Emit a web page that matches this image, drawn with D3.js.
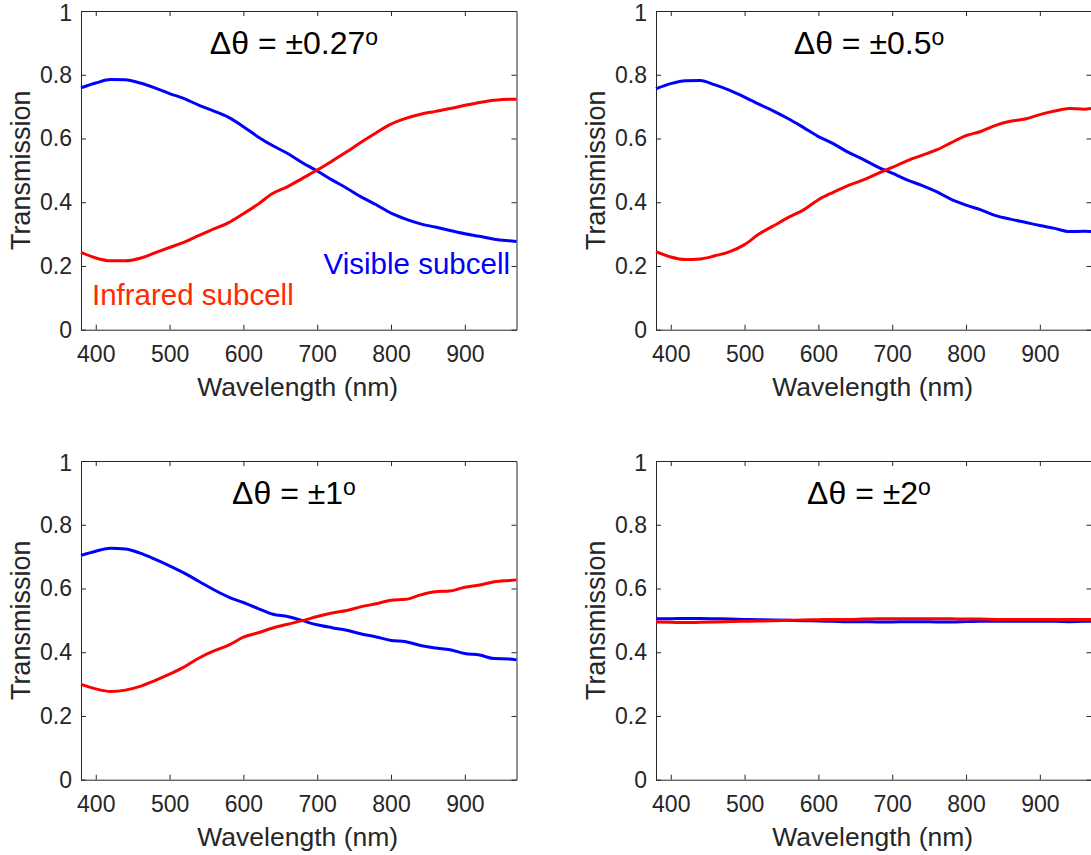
<!DOCTYPE html>
<html>
<head>
<meta charset="utf-8">
<script src="https://cdn.jsdelivr.net/npm/d3@7"></script>
<style>
  html, body { margin: 0; padding: 0; background: #fff; }
  svg { display: block; font-family: "Liberation Sans", Arial, Helvetica, sans-serif; }
</style>
</head>
<body>
<svg id="chart" width="1091" height="855"></svg>
<script>
// wavelength grid (nm)
const wavelength = [380, 400, 420, 440, 460, 480, 500, 520, 540, 560, 580, 600, 620, 640, 660, 680,
  700, 720, 740, 760, 780, 800, 820, 840, 860, 880, 900, 920, 940, 960, 970];

// Δθ = ±0.27°
const visible027 = [0.759, 0.774, 0.785, 0.784, 0.774, 0.759, 0.741, 0.725, 0.704, 0.686, 0.666, 0.637, 0.605, 0.577, 0.553, 0.524,
  0.498, 0.470, 0.444, 0.416, 0.392, 0.366, 0.347, 0.332, 0.322, 0.311, 0.301, 0.293, 0.284, 0.279, 0.277];
const infrared027 = [0.243, 0.225, 0.216, 0.216, 0.224, 0.241, 0.258, 0.275, 0.296, 0.316, 0.336, 0.364, 0.394, 0.428, 0.449, 0.475,
  0.501, 0.529, 0.558, 0.589, 0.618, 0.645, 0.663, 0.676, 0.685, 0.694, 0.704, 0.713, 0.720, 0.723, 0.723];

// Δθ = ±0.5°
const visible05 = [0.756, 0.772, 0.781, 0.782, 0.768, 0.751, 0.730, 0.707, 0.685, 0.661, 0.634, 0.606, 0.584, 0.557, 0.535, 0.511,
  0.491, 0.470, 0.453, 0.433, 0.409, 0.391, 0.376, 0.358, 0.347, 0.337, 0.327, 0.318, 0.308, 0.309, 0.308];
const infrared05 = [0.245, 0.228, 0.220, 0.222, 0.232, 0.245, 0.267, 0.301, 0.327, 0.353, 0.376, 0.408, 0.431, 0.452, 0.469, 0.490,
  0.509, 0.530, 0.547, 0.564, 0.587, 0.609, 0.622, 0.641, 0.654, 0.661, 0.675, 0.686, 0.694, 0.692, 0.694];

// Δθ = ±1°
const visible1 = [0.704, 0.717, 0.726, 0.724, 0.711, 0.692, 0.671, 0.648, 0.622, 0.596, 0.573, 0.556, 0.537, 0.519, 0.512, 0.499,
  0.486, 0.477, 0.469, 0.457, 0.448, 0.437, 0.433, 0.421, 0.413, 0.408, 0.396, 0.391, 0.380, 0.379, 0.376];
const infrared1 = [0.299, 0.285, 0.277, 0.281, 0.293, 0.311, 0.331, 0.354, 0.382, 0.404, 0.422, 0.447, 0.461, 0.476, 0.488, 0.499,
  0.512, 0.523, 0.531, 0.543, 0.552, 0.563, 0.566, 0.580, 0.590, 0.592, 0.604, 0.611, 0.621, 0.625, 0.627];

// Δθ = ±2°
const visible2 = [0.505, 0.505, 0.506, 0.506, 0.505, 0.504, 0.503, 0.502, 0.501, 0.500, 0.499, 0.498, 0.497, 0.496, 0.496, 0.495,
  0.495, 0.496, 0.496, 0.495, 0.495, 0.496, 0.497, 0.497, 0.497, 0.497, 0.497, 0.497, 0.496, 0.497, 0.497];
const infrared2 = [0.495, 0.494, 0.493, 0.494, 0.495, 0.496, 0.497, 0.498, 0.499, 0.500, 0.501, 0.502, 0.503, 0.503, 0.504, 0.505,
  0.505, 0.505, 0.505, 0.505, 0.505, 0.504, 0.504, 0.503, 0.503, 0.503, 0.503, 0.503, 0.503, 0.503, 0.503];

const panelAngles = ["±0.27", "±0.5", "±1", "±2"];
const xTicks = [400, 500, 600, 700, 800, 900];
const yTicks = [0, 0.2, 0.4, 0.6, 0.8, 1];

const panels = [
  { angle: panelAngles[0], visible: visible027, infrared: infrared027, left: 81, top: 11, labels: true },
  { angle: panelAngles[1], visible: visible05, infrared: infrared05, left: 656, top: 11 },
  { angle: panelAngles[2], visible: visible1, infrared: infrared1, left: 81, top: 461 },
  { angle: panelAngles[3], visible: visible2, infrared: infrared2, left: 656, top: 461 }
];

const W = 435.5, H = 318.7;
const svg = d3.select("#chart");
const ink = "#262626";

panels.forEach(p => {
  const g = svg.append("g").attr("transform", `translate(${p.left},${p.top})`);

  const x = d3.scaleLinear().domain([380, 970]).range([0, W]);
  const y = d3.scaleLinear().domain([0, 1]).range([H, 0]);

  // axes, ticks inward on all four sides
  const styleAxis = sel => {
    sel.attr("font-family", null).attr("font-size", null);
    sel.selectAll("path, line").attr("stroke", ink).attr("stroke-width", 1);
    sel.selectAll("text").attr("fill", ink).style("font-size", "23px");
  };

  g.append("g").attr("transform", `translate(0,${H})`)
    .call(d3.axisBottom(x).tickValues(xTicks).tickSizeInner(-5).tickSizeOuter(0).tickPadding(15.5))
    .call(styleAxis);
  const yAxis = g.append("g")
    .call(d3.axisLeft(y).tickValues(yTicks).tickSizeInner(-5).tickSizeOuter(0).tickPadding(9)
      .tickFormat(d => d === 0 || d === 1 ? d3.format("d")(d) : d3.format(".1f")(d)))
    .call(styleAxis);
  // top label "1" sits right at the figure edge; nudge it in slightly
  yAxis.selectAll(".tick text").filter(d => d === 1).attr("dy", "0.42em");
  g.append("g")
    .call(d3.axisTop(x).tickValues(xTicks).tickSizeInner(-5).tickSizeOuter(0).tickFormat(""))
    .call(styleAxis);
  g.append("g").attr("transform", `translate(${W},0)`)
    .call(d3.axisRight(y).tickValues(yTicks).tickSizeInner(-5).tickSizeOuter(0).tickFormat(""))
    .call(styleAxis);

  // axis titles
  g.append("text")
    .attr("x", W / 2 - 1).attr("y", H + 66)
    .attr("text-anchor", "middle")
    .attr("fill", ink).style("font-size", "26.5px")
    .text("Wavelength (nm)");
  g.append("text")
    .attr("transform", `translate(-51,${H / 2}) rotate(-90)`)
    .attr("text-anchor", "middle")
    .attr("fill", ink).style("font-size", "27px")
    .text("Transmission");

  // curves
  const line = d3.line()
    .x((d, i) => x(wavelength[i]))
    .y(d => y(d))
    .curve(d3.curveMonotoneX);

  g.append("path").datum(p.visible)
    .attr("d", line).attr("fill", "none")
    .attr("stroke", "#0000ff").attr("stroke-width", 3)
    .attr("stroke-linejoin", "round");
  g.append("path").datum(p.infrared)
    .attr("d", line).attr("fill", "none")
    .attr("stroke", "#ff0000").attr("stroke-width", 3)
    .attr("stroke-linejoin", "round");

  // panel title: Δθ = ±x°
  const t = g.append("text")
    .attr("x", 213).attr("y", 42.5)
    .attr("text-anchor", "middle")
    .attr("fill", "#000").style("font-size", "32px");
  t.append("tspan").text(`Δθ = ${p.angle}`);
  t.append("tspan").attr("dy", -9).style("font-size", "23px").text("o");

  if (p.labels) {
    g.append("text")
      .attr("x", 11).attr("y", 293.5)
      .attr("fill", "#ff2a00").style("font-size", "29.5px")
      .text("Infrared subcell");
    g.append("text")
      .attr("x", 429).attr("y", 262.5)
      .attr("text-anchor", "end")
      .attr("fill", "#0000ff").style("font-size", "29.5px")
      .text("Visible subcell");
  }
});
</script>
</body>
</html>
